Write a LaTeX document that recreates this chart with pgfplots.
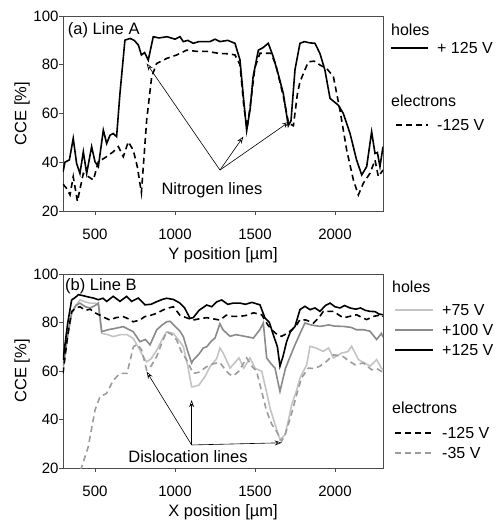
\documentclass[border=0pt]{standalone}
\usepackage{fontspec}
\setmainfont{Liberation Sans}
\usepackage{pgfplots}
\pgfplotsset{compat=1.18}
\usetikzlibrary{arrows.meta}

\definecolor{lgray}{HTML}{C4C4C4}
\definecolor{mgray}{HTML}{8A8A8A}
\definecolor{dgray}{HTML}{9C9C9C}

\pgfplotsset{
  ccepanel/.style={
    scale only axis, width=320pt,
    anchor=south west,
    xmin=300, xmax=2300, ymin=20, ymax=100,
    xtick={500,1000,1500,2000}, ytick={20,40,...,100},
    xtick pos=bottom, ytick pos=left,
    tick align=outside, major tick length=4pt,
    tick style={black!70, line width=0.6pt},
    axis line style={black!70, line width=0.6pt},
    ticklabel style={font=\fontsize{15}{17}\selectfont},
    xticklabel style={yshift=-10pt},
    yticklabel style={xshift=3pt},
    /pgf/number format/assume math mode=true,
    /pgf/number format/1000 sep={},
    label style={font=\fontsize{16.5}{19}\selectfont},
    xlabel style={at={(axis description cs:0.5,-0.228)}, anchor=center},
    ylabel style={at={(axis description cs:-0.128,0.5)}, anchor=center},
    ylabel={CCE [\%]},
  },
}
\tikzset{
  leg/.style={anchor=west, inner sep=0pt, font=\fontsize{16}{18}\selectfont},
  anno/.style={font=\fontsize{16.5}{19}\selectfont},
  arr/.style={line width=0.6pt, -{Stealth[open, length=7pt, width=5pt]}},
}

\begin{document}
\begin{tikzpicture}
\path[use as bounding box] (0pt,0pt) rectangle (497pt,-522pt);

% ---- (a) Line A
\begin{axis}[ccepanel, at={(63pt,-211pt)}, height=195pt,
  xlabel={Y position [µm]}]
\addplot[black, line width=1.6pt] table {
300 36
312 40
340 41
364 49.8
385 39.5
406 35.4
427 44.3
448 35.4
479 46.4
500 40.2
521 38.2
552 53.2
573 47.7
594 51.1
614 51.8
635 50.5
656 68.2
687 90.1
719 90.8
745 90
771 88.1
790 84
810 85
833 81.9
864 91.5
900 91
950 91.5
1000 90.5
1031 91.5
1052 89.5
1080 90
1114 88.8
1150 89.5
1219 89.5
1250 90.5
1281 89.5
1330 90
1375 88.8
1406 82
1430 65
1448 53
1470 62
1488 75
1521 86
1550 87
1583 88.8
1614 83.3
1650 75
1677 68.2
1708 55
1725 57
1750 78
1781 88.8
1810 89.5
1840 89
1875 88.8
1906 84.6
1937 77.8
1969 66.2
2021 63.4
2052 60
2094 51.8
2135 40.9
2167 34.8
2198 38.2
2229 52.5
2250 43.6
2265 44
2281 38.2
2300 46.4
};
\addplot[black, line width=1.6pt, dash pattern=on 6pt off 4pt] table {
300 31
320 29.5
344 26.6
364 34.1
390 24
427 35.4
458 34.1
490 32.7
521 40.2
573 42.3
614 44.3
646 46.4
677 42.3
708 48.4
739 45
765 38
790 27.5
823 57.3
854 75
885 80.5
948 82.6
1010 84
1073 86
1135 85.5
1200 85.5
1281 84.6
1340 84.5
1375 84
1406 80
1430 63
1450 54
1470 63
1500 79
1531 84.7
1600 84.7
1630 80
1677 67
1710 56
1740 55
1765 68
1781 73
1833 81.2
1870 81.5
1906 79.9
1948 78.5
1990 75.1
2031 61.4
2073 45
2115 32.7
2146 26.6
2177 31.4
2219 35.5
2250 40.9
2271 34.1
2300 36.8
};
\node[anno] at (axis cs:1231,28.6) {Nitrogen lines};
\node[anno, anchor=west, inner sep=0pt] at (axis cs:330,94.3) {(a) Line A};
\draw[arr] (axis cs:1281,36.8) -- (axis cs:823,80.5);
\draw[arr] (axis cs:1281,36.8) -- (axis cs:1427,50.5);
\draw[arr] (axis cs:1281,36.8) -- (axis cs:1714,56.6);
\end{axis}

% ---- (b) Line B
\begin{axis}[ccepanel, at={(63pt,-468pt)}, height=194pt,
  xlabel={X position [µm]}]
% +75 V
\addplot[lgray, line width=1.6pt] table {
300 60
330 75
354 83.8
380 87
406 89.3
440 88.5
469 88
500 88
521 87.2
542 75.5
580 75
614 74.2
660 75
700 75
739 73.4
781 68.6
800 66
823 63.8
850 65
886 68.6
920 73
948 76.2
990 75.5
1020 73
1052 70.1
1080 62
1104 53.5
1114 53.5
1150 54.2
1190 58
1219 61.8
1260 65
1281 69.5
1302 67.3
1344 61.2
1400 65.4
1430 61.2
1469 65.4
1500 61.2
1542 59.9
1570 52
1594 44.7
1625 38
1656 31.7
1687 33.7
1710 40
1729 46.1
1760 52
1781 57.1
1823 62.6
1844 70.2
1880 69.5
1927 68.1
1960 69.5
1990 65.4
2042 67.4
2080 68
2104 70.2
2146 64.7
2180 63.5
2219 62
2260 64.7
2290 61.2
2300 60.5
};
% +100 V
\addplot[mgray, line width=1.6pt] table {
300 62
330 75
354 83.8
380 87
406 88
440 86.5
470 86
500 87
521 88
542 76.2
580 77
620 77.5
677 78.3
739 76.2
781 72.1
815 73
844 70.8
886 77
920 79
948 80.3
969 80.5
1000 78.5
1031 76.4
1052 74.2
1080 68
1104 63.3
1114 64.5
1150 67
1177 69.5
1198 70
1230 72.5
1250 73.6
1281 79.5
1300 77
1344 74.3
1380 75
1420 74.5
1460 74
1490 73.6
1530 77
1552 79.8
1573 65.4
1600 63
1625 61.2
1656 51.6
1690 61
1720 66
1750 70.8
1792 77
1812 79.8
1850 79
1906 78.4
1960 79
2000 78.5
2052 78.4
2100 78
2135 77
2180 77
2219 76.4
2260 73
2290 75.5
2300 74
};
% -35 V
\addplot[dgray, line width=1.6pt, dash pattern=on 6pt off 4pt] table {
390 15
417 20.5
458 28.8
500 43.9
531 49.4
573 50.8
615 56.3
656 59
700 59
740 70
765 71
792 68.6
823 60.4
850 62
886 66
920 72
948 76.2
980 75
1010 72.8
1040 68
1073 64.5
1114 59
1150 59.5
1198 61.8
1240 63
1281 63.5
1320 60
1344 58.5
1365 58
1400 60
1448 65.4
1480 62
1510 59.9
1540 52
1573 43.4
1605 38
1635 35.1
1666 31
1690 34
1708 37.9
1735 44
1760 50.2
1790 57
1833 61.2
1870 61
1906 62
1948 64
1990 66.7
2050 66
2090 64
2125 62.6
2177 63.3
2229 60.5
2260 61
2300 59.5
};
% -125 V
\addplot[black, line width=1.6pt, dash pattern=on 6pt off 4pt] table {
300 59
330 75
354 84.5
380 86
406 86.5
440 85
470 85.5
500 84
531 83
560 82
594 81
630 82
677 82.4
710 81.5
739 80.3
780 81
810 82.4
850 83
886 83.8
920 85
948 85.8
990 86.5
1031 83
1070 82
1114 81
1150 81.5
1198 82
1240 81.5
1281 81
1320 83
1364 82.5
1406 82.5
1450 83
1490 84
1542 83.2
1580 79
1614 76.4
1640 75
1666 74.3
1700 75.5
1729 77
1760 79
1781 81.2
1820 81
1865 79.8
1900 82
1927 84.6
1990 84.6
2052 81.9
2090 82.5
2135 83.2
2170 82
2198 81.2
2240 82.5
2290 83.2
2300 82.5
};
% +125 V
\addplot[black, line width=1.6pt] table {
300 64.5
330 80
354 89.3
380 90.5
396 91.5
430 91
460 90.5
490 90.1
520 89.4
550 90
573 88.7
614 90.8
640 89.5
656 88.7
698 90.8
729 88.7
771 90.1
812 87.3
850 87.5
886 88.6
920 89.5
948 90
990 89.5
1031 88
1060 86
1094 81.7
1114 82
1150 85
1198 87.2
1230 86.5
1260 88.5
1292 89.3
1330 87.5
1364 88
1406 88
1440 87.5
1480 88.3
1531 87.3
1562 81.9
1590 80
1614 75
1640 70
1656 62
1675 66
1698 72.2
1720 76
1750 78.4
1781 85.3
1812 86.7
1844 85.3
1875 86
1906 84.6
1940 87
1969 88
2000 86.5
2031 86
2060 87
2094 86
2130 85.5
2160 86
2190 85
2219 84.6
2250 84.5
2275 83.5
2300 83.2
};
\node[anno] at (axis cs:1081,24.6) {Dislocation lines};
\node[anno, anchor=west, inner sep=0pt] at (axis cs:312,94.8) {(b) Line B};
\draw[arr] (axis cs:1104,29.5) -- (axis cs:823,59.7);
\draw[arr] (axis cs:1104,29.5) -- (axis cs:1104,48);
\draw[arr] (axis cs:1104,29.5) -- (axis cs:1667,30.4);
\end{axis}

% ---- legends
\node[leg] at (391pt,-30pt) {holes};
\draw[black, line width=1.8pt] (391pt,-48pt) -- (428pt,-48pt);
\node[leg] at (437pt,-48pt) {+ 125 V};
\node[leg] at (391pt,-101pt) {electrons};
\draw[black, line width=1.8pt, dash pattern=on 6pt off 4pt] (396pt,-125pt) -- (428pt,-125pt);
\node[leg] at (437pt,-125pt) {-125 V};

\node[leg] at (392pt,-287pt) {holes};
\draw[lgray, line width=1.8pt] (395pt,-310pt) -- (433pt,-310pt);
\node[leg] at (442pt,-310pt) {+75 V};
\draw[mgray, line width=1.8pt] (395pt,-330pt) -- (433pt,-330pt);
\node[leg] at (442pt,-330pt) {+100 V};
\draw[black, line width=1.8pt] (395pt,-350pt) -- (433pt,-350pt);
\node[leg] at (442pt,-350pt) {+125 V};
\node[leg] at (392pt,-408pt) {electrons};
\draw[black, line width=1.8pt, dash pattern=on 6pt off 4pt] (395pt,-433pt) -- (433pt,-433pt);
\node[leg] at (442pt,-433pt) {-125 V};
\draw[dgray, line width=1.8pt, dash pattern=on 6pt off 4pt] (395pt,-453pt) -- (433pt,-453pt);
\node[leg] at (442pt,-453pt) {-35 V};
\end{tikzpicture}
\end{document}
